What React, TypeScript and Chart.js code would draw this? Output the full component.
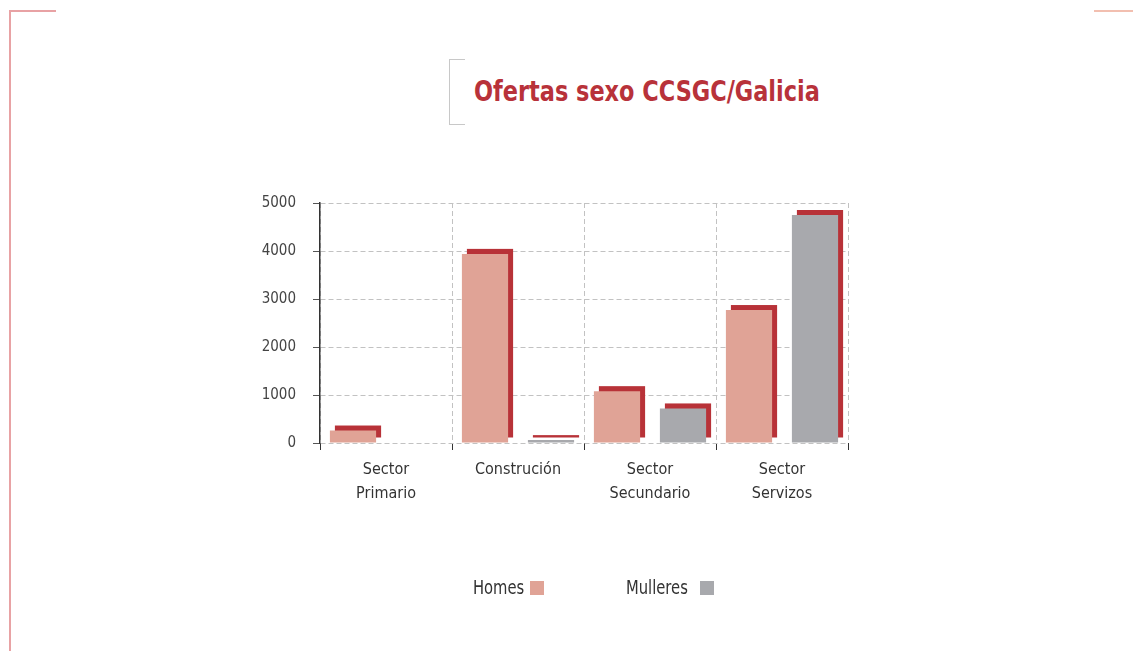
import React, { useEffect, useRef } from "react";
import { Chart, registerables } from "chart.js";

Chart.register(...registerables);

const TITLE = "Ofertas sexo CCSGC/Galicia";
const CATEGORIES: string[][] = [
  ["Sector", "Primario"],
  ["Construción"],
  ["Sector", "Secundario"],
  ["Sector", "Servizos"],
];
const SERIES_LABELS = ["Homes", "Mulleres"];
const HOMES = [260, 3940, 1080, 2770];
const MULLERES = [0, 60, 720, 4750];
const Y_TICKS = [0, 1000, 2000, 3000, 4000, 5000];

const COLORS = ["#e0a396", "#a8a9ad"];
const SHADOW = "#b83238";
const SHADOW_OFF = 5;
const FONT = "'Liberation Sans Narrow', 'DejaVu Sans Condensed', 'Liberation Sans', sans-serif";

const shadowPlugin = {
  id: "barShadow",
  beforeDatasetsDraw(chart: any) {
    const ctx = chart.ctx;
    ctx.save();
    ctx.fillStyle = SHADOW;
    chart.data.datasets.forEach((ds: any, i: number) => {
      const meta = chart.getDatasetMeta(i);
      meta.data.forEach((bar: any, j: number) => {
        const v = ds.data[j];
        if (!v) return;
        const p = bar.getProps(["x", "y", "base", "width"], true);
        ctx.fillRect(p.x - p.width / 2 + SHADOW_OFF, p.y - SHADOW_OFF, p.width, p.base - p.y);
      });
    });
    ctx.restore();
  },
};

function ChartCanvas() {
  const ref = useRef<HTMLCanvasElement | null>(null);
  useEffect(() => {
    if (!ref.current) return;
    const chart = new Chart(ref.current, {
      type: "bar",
      data: {
        labels: CATEGORIES,
        datasets: [
          { label: SERIES_LABELS[0], data: HOMES, backgroundColor: COLORS[0] },
          { label: SERIES_LABELS[1], data: MULLERES, backgroundColor: COLORS[1] },
        ],
      },
      plugins: [shadowPlugin],
      options: {
        animation: false,
        responsive: false,
        maintainAspectRatio: false,
        layout: { padding: { left: 250, top: 203, right: 285, bottom: 138 } },
        datasets: { bar: { categoryPercentage: 1, barPercentage: 0.7 } } as any,
        plugins: { legend: { display: false }, tooltip: { enabled: false }, title: { display: false } },
        scales: {
          x: {
            border: { display: false, dash: [5, 3] },
            grid: {
              color: "#c2c2c2",
              lineWidth: 1,
              tickColor: "#333",
              tickBorderDash: [],
              tickLength: 7,
              offset: true,
            } as any,
            ticks: {
              font: { family: FONT, size: 16, lineHeight: 1.5 },
              color: "#333",
              padding: 8,
              maxRotation: 0,
            } as any,
            afterFit(scale: any) { scale.height = 70; },
          },
          y: {
            min: 0,
            max: 5000,
            border: { display: true, color: "#333", width: 1.5, dash: [5, 3] },
            grid: {
              color: "#c2c2c2",
              lineWidth: 1,
              tickColor: "#555",
              tickBorderDash: [],
              tickLength: 7,
            } as any,
            afterBuildTicks(scale: any) { scale.ticks = Y_TICKS.map((v) => ({ value: v })); },
            ticks: {
              font: { family: FONT, size: 15 },
              color: "#444",
              padding: 17,
              callback: (v: any) => String(v),
            } as any,
            afterFit(scale: any) { scale.width = 70; },
          },
        },
      },
    });
    return () => chart.destroy();
  }, []);
  return (
    <canvas
      ref={ref}
      width={1133}
      height={651}
      style={{ position: "absolute", left: 0, top: 0, width: 1133, height: 651 }}
    />
  );
}

export default function App() {
  useEffect(() => {
    document.body.style.margin = "0";
  }, []);
  const legendPos = [
    { textLeft: 473, boxLeft: 530 },
    { textLeft: 626, boxLeft: 700 },
  ];
  return (
    <div style={{ position: "relative", width: 1133, height: 651, background: "#fff", overflow: "hidden" }}>
      <div style={{ position: "absolute", left: 9, top: 10, width: 2, height: 641, background: "#e8a2a4" }} />
      <div style={{ position: "absolute", left: 9, top: 10, width: 47, height: 2, background: "#e8a2a4" }} />
      <div style={{ position: "absolute", left: 1094, top: 10, width: 39, height: 2, background: "#f2bfb0" }} />
      <div
        style={{
          position: "absolute",
          left: 449,
          top: 59,
          width: 16,
          height: 66,
          borderLeft: "1px solid #c8c8c8",
          borderTop: "1px solid #c8c8c8",
          borderBottom: "1px solid #c8c8c8",
          boxSizing: "border-box",
        }}
      />
      <div
        style={{
          position: "absolute",
          left: 474,
          top: 75,
          fontFamily: FONT,
          fontWeight: "bold",
          fontSize: 28,
          lineHeight: "34px",
          color: "#b8323a",
          whiteSpace: "nowrap",
          transform: "scaleX(0.89)",
          transformOrigin: "left center",
        }}
      >
        {TITLE}
      </div>
      <ChartCanvas />
      {SERIES_LABELS.map((lab, i) => (
        <React.Fragment key={lab}>
          <div
            style={{
              position: "absolute",
              left: legendPos[i].textLeft,
              top: 574,
              fontFamily: FONT,
              fontSize: 20,
              lineHeight: "26px",
              color: "#333",
              whiteSpace: "nowrap",
              transform: "scaleX(0.82)",
              transformOrigin: "left center",
            }}
          >
            {lab}
          </div>
          <div
            style={{
              position: "absolute",
              left: legendPos[i].boxLeft,
              top: 581,
              width: 14,
              height: 14,
              background: COLORS[i],
            }}
          />
        </React.Fragment>
      ))}
    </div>
  );
}
